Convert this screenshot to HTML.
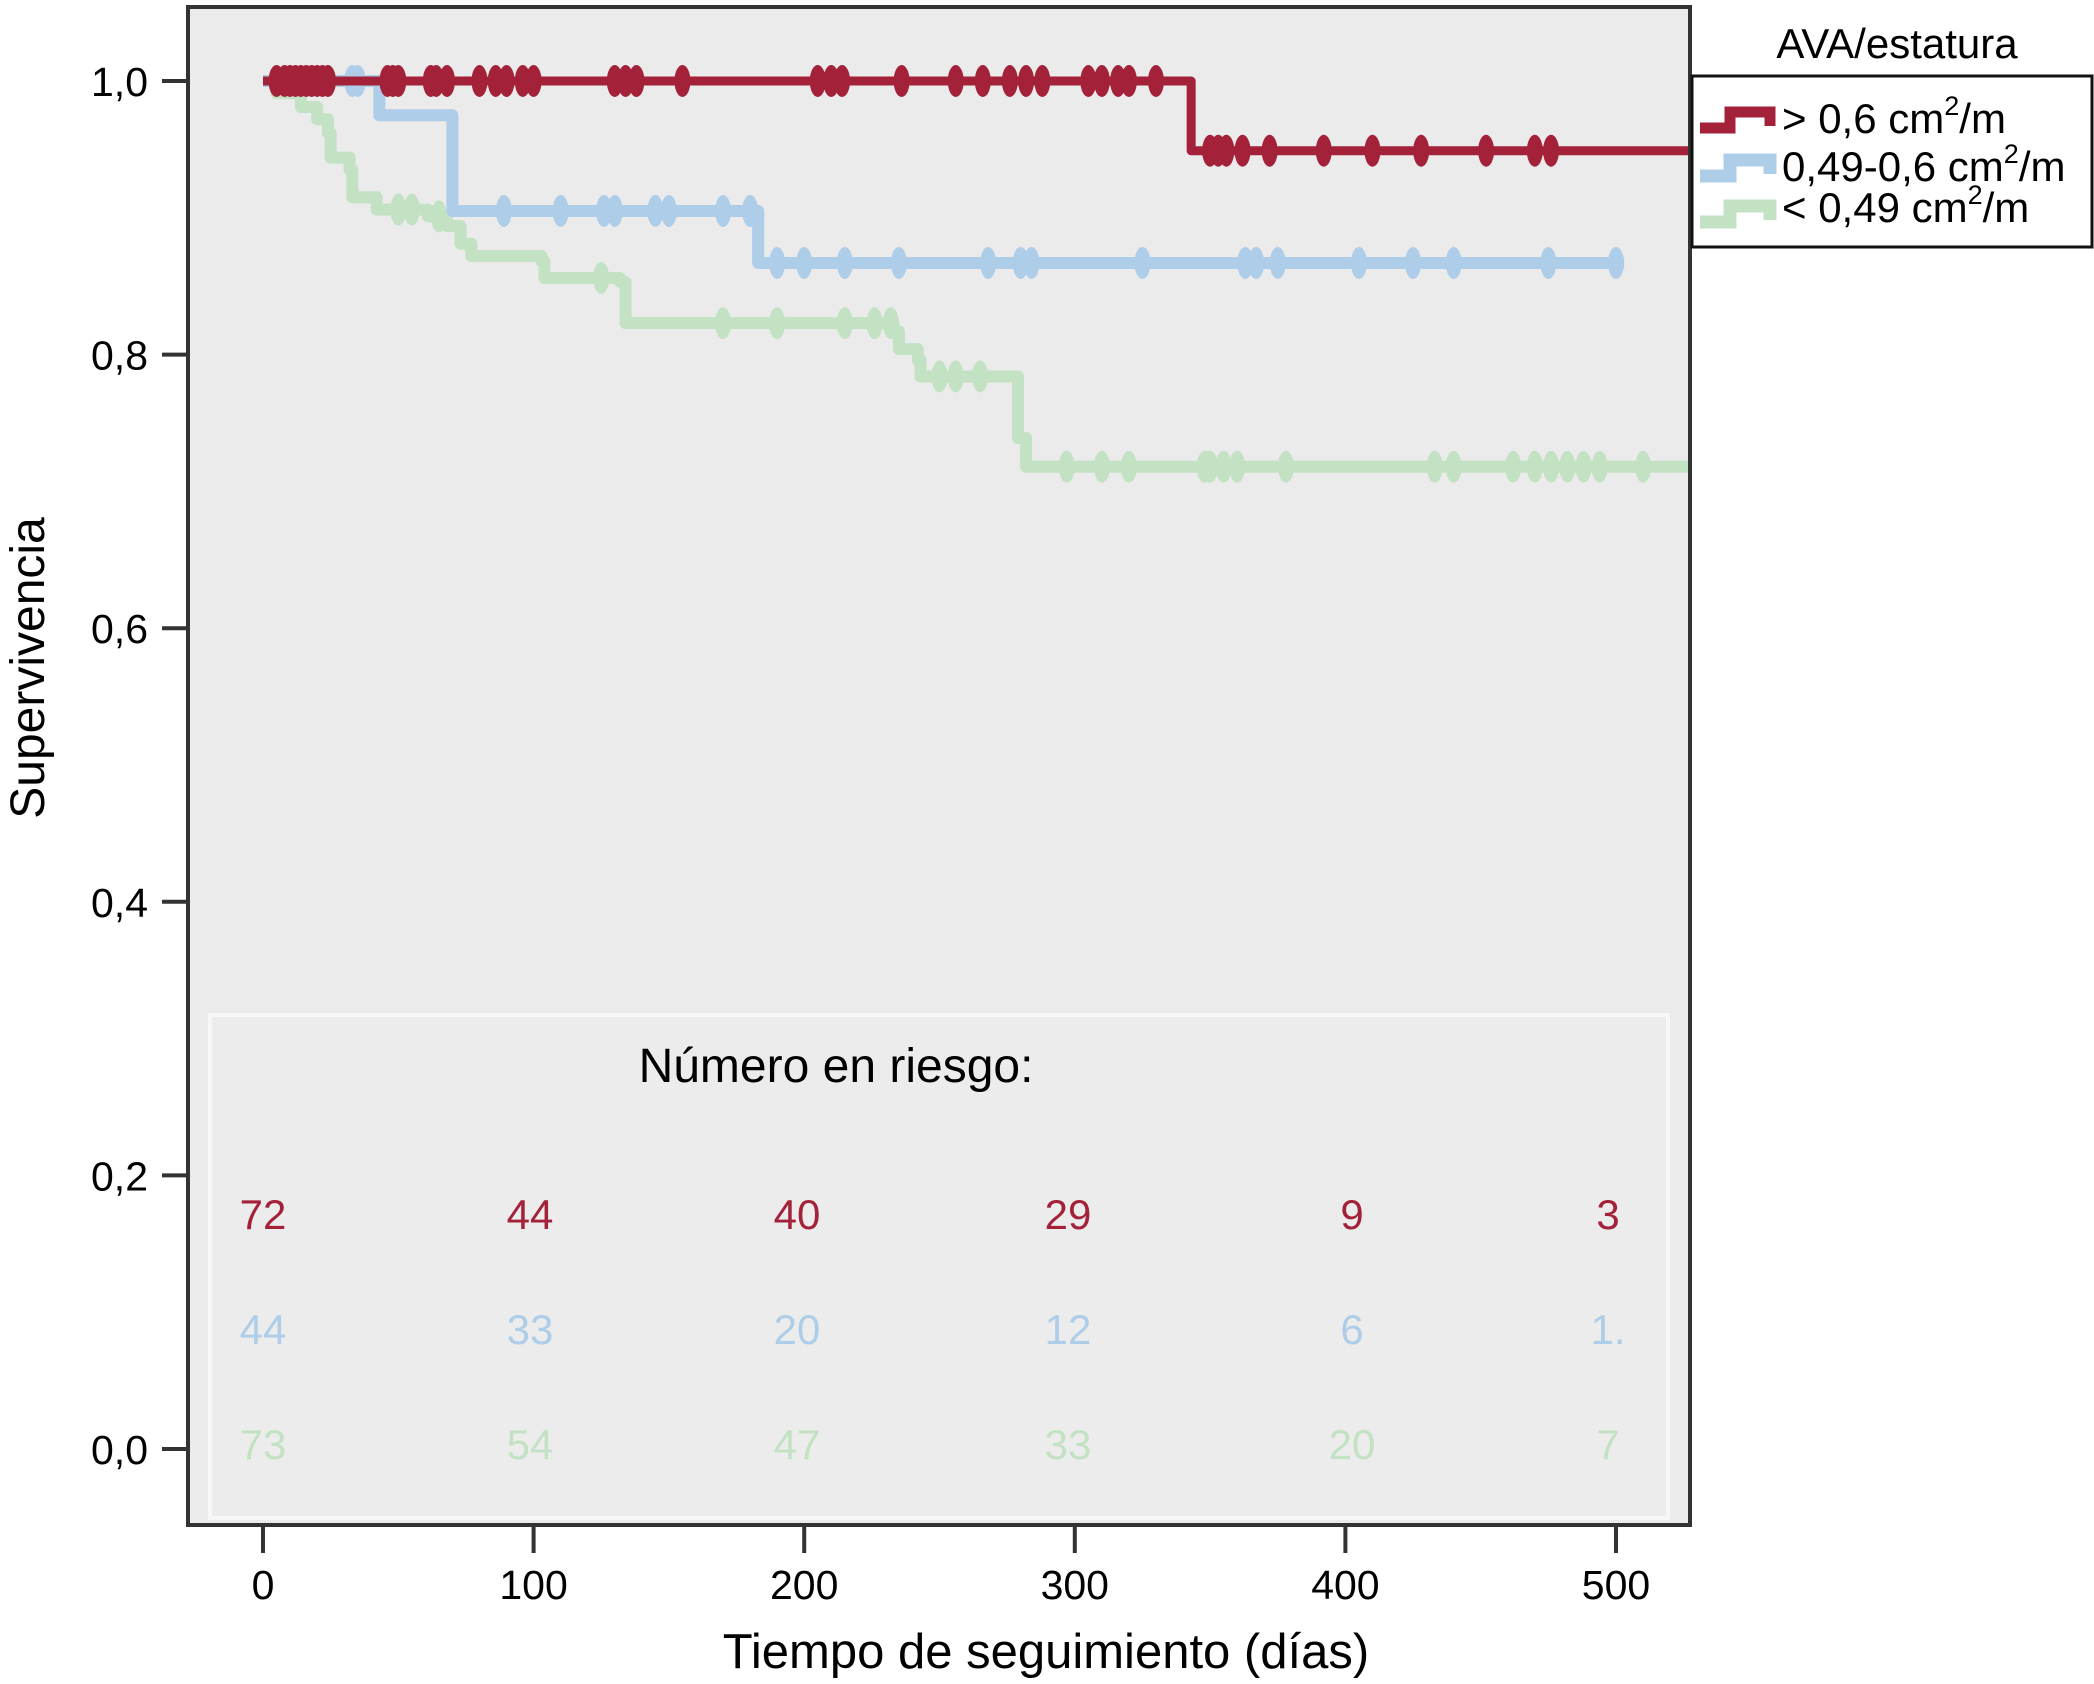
<!DOCTYPE html>
<html><head><meta charset="utf-8"><style>
html,body{margin:0;padding:0;background:#fff;}
svg text{font-family:"Liberation Sans",Arial,sans-serif;}
</style></head><body>
<svg id="chart" width="2094" height="1679" viewBox="0 0 2094 1679" xmlns="http://www.w3.org/2000/svg">
<rect x="188" y="7" width="1502" height="1518" fill="#ebebeb"/>
<rect x="210" y="1015" width="1458" height="503" fill="#ececec" stroke="#f7f7f7" stroke-width="4"/>
<g id="curves"></g>
<rect x="188" y="7" width="1502" height="1518" fill="none" stroke="#333" stroke-width="4"/>
<g id="axes"></g>
<text transform="translate(44,668) rotate(-90)" text-anchor="middle" font-size="48">Supervivencia</text>
<text x="1046" y="1668" text-anchor="middle" font-size="49">Tiempo de seguimiento (días)</text>
<text x="836" y="1082" text-anchor="middle" font-size="48">Número en riesgo:</text>
<g id="risk"></g>
<text x="1897" y="58" text-anchor="middle" font-size="42">AVA/estatura</text>
<rect x="1692" y="76" width="400" height="171" fill="#fff" stroke="#111" stroke-width="3"/>
<g>
<path d="M1700,128 H1730 V112 H1770 V126" fill="none" stroke="#a3223a" stroke-width="11"/>
<text x="1782" y="133" font-size="42">&gt; 0,6 cm<tspan dy="-18" font-size="27">2</tspan><tspan dy="18">/m</tspan></text>
</g>
<g>
<path d="M1700,176 H1730 V160 H1770 V174" fill="none" stroke="#aecde8" stroke-width="13"/>
<text x="1782" y="181" font-size="42">0,49-0,6 cm<tspan dy="-18" font-size="27">2</tspan><tspan dy="18">/m</tspan></text>
</g>
<g>
<path d="M1700,222 H1730 V206 H1770 V220" fill="none" stroke="#c3e2c3" stroke-width="13"/>
<text x="1782" y="222" font-size="42">&lt; 0,49 cm<tspan dy="-18" font-size="27">2</tspan><tspan dy="18">/m</tspan></text>
</g>
</svg>
<script>
const xTicks=[0,100,200,300,400,500];
const yTicks=[0,0.2,0.4,0.6,0.8,1.0];
const yTickLabels=["0,0","0,2","0,4","0,6","0,8","1,0"];
const redTimes=[0,343,527];
const redSurv=[1.0,0.949,0.949];
const blueTimes=[0,43,70,183,503];
const blueSurv=[1.0,0.975,0.905,0.867,0.867];
const greenTimes=[0,5,14,20,24,25,32,33,42,61,68,73,77,103,104,132,134,233,235,242,243,279,282,527];
const greenSurv=[1.0,0.991,0.981,0.972,0.962,0.944,0.935,0.915,0.906,0.901,0.894,0.881,0.872,0.868,0.856,0.853,0.823,0.817,0.804,0.796,0.784,0.739,0.718,0.718];
const redCens=[5,8,10,12,14,16,18,20,22,24,46,48,50,62,64,68,80,86,90,96,100,130,134,138,155,205,210,214,236,256,266,276,282,288,305,310,316,320,330,350,353,356,362,372,392,410,428,452,470,476];
const blueCens=[33,35,89,110,126,130,145,150,170,180,190,200,215,235,268,280,284,325,363,367,375,405,425,440,475,500];
const greenCens=[50,55,65,125,170,190,215,226,232,250,256,265,297,310,320,348,350,355,360,378,433,440,462,470,476,482,488,494,510];
const riskCats=[0,100,200,300,400,500];
const riskRed=["72","44","40","29","9","3"];
const riskBlue=["44","33","20","12","6","1."];
const riskGreen=["73","54","47","33","20","7"];
const riskX=[263,530,797,1068,1352,1608];

const NS="http://www.w3.org/2000/svg";
const xs=d=>263+d*2.706;
const ys=v=>1449-v*1368;
function mk(tag,attrs,parent){const e=document.createElementNS(NS,tag);for(const k in attrs)e.setAttribute(k,attrs[k]);parent.appendChild(e);return e;}
const axes=document.getElementById('axes');
xTicks.forEach((t,i)=>{
  const l=mk('line',{x1:xs(t),x2:xs(t),y1:1527,y2:1553,stroke:'#333','stroke-width':4},axes);
  
  
  const tx=mk('text',{x:xs(t),y:1599,'text-anchor':'middle','font-size':41},axes);
  tx.textContent=t;
  
  
});
yTicks.forEach((t,i)=>{
  const l=mk('line',{x1:162,x2:188,y1:ys(t),y2:ys(t),stroke:'#333','stroke-width':4},axes);
  
  
  const tx=mk('text',{x:148,y:ys(t)+15,'text-anchor':'end','font-size':41},axes);
  tx.textContent=yTickLabels[i];
  
  
});
const curves=document.getElementById('curves');
function survAt(times,surv,t){let v=surv[0];for(let i=0;i<times.length;i++){if(times[i]<=t)v=surv[i];}return v;}
function drawCurve(times,surv,cens,color,w,name){
  const g=mk('g',{},curves);
  
  
  let d='M'+xs(times[0])+','+ys(surv[0]);
  for(let i=1;i<times.length;i++){d+=' H'+xs(times[i])+' V'+ys(surv[i]);}
  const p=mk('path',{d:d,fill:'none',stroke:color,'stroke-width':w,'stroke-linejoin':'round'},g);
  
  
  cens.forEach(c=>{
    const e=mk('ellipse',{cx:xs(c),cy:ys(survAt(times,surv,c)),rx:8,ry:16,fill:color},g);
    
    
  });
}
drawCurve(greenTimes,greenSurv,greenCens,'#c3e2c3',12,'curve-low');
drawCurve(blueTimes,blueSurv,blueCens,'#aecde8',12,'curve-mid');
drawCurve(redTimes,redSurv,redCens,'#a3223a',9,'curve-high');
const risk=document.getElementById('risk');
[[riskRed,'#a3223a',1229,'risk-high'],[riskBlue,'#aecde8',1344,'risk-mid'],[riskGreen,'#c3e2c3',1459,'risk-low']].forEach(r=>{
  r[0].forEach((v,i)=>{
    const tx=mk('text',{x:riskX[i],y:r[2],'text-anchor':'middle','font-size':42,fill:r[1]},risk);
    tx.textContent=v;
    
    
  });
});
</script>
</body></html>
